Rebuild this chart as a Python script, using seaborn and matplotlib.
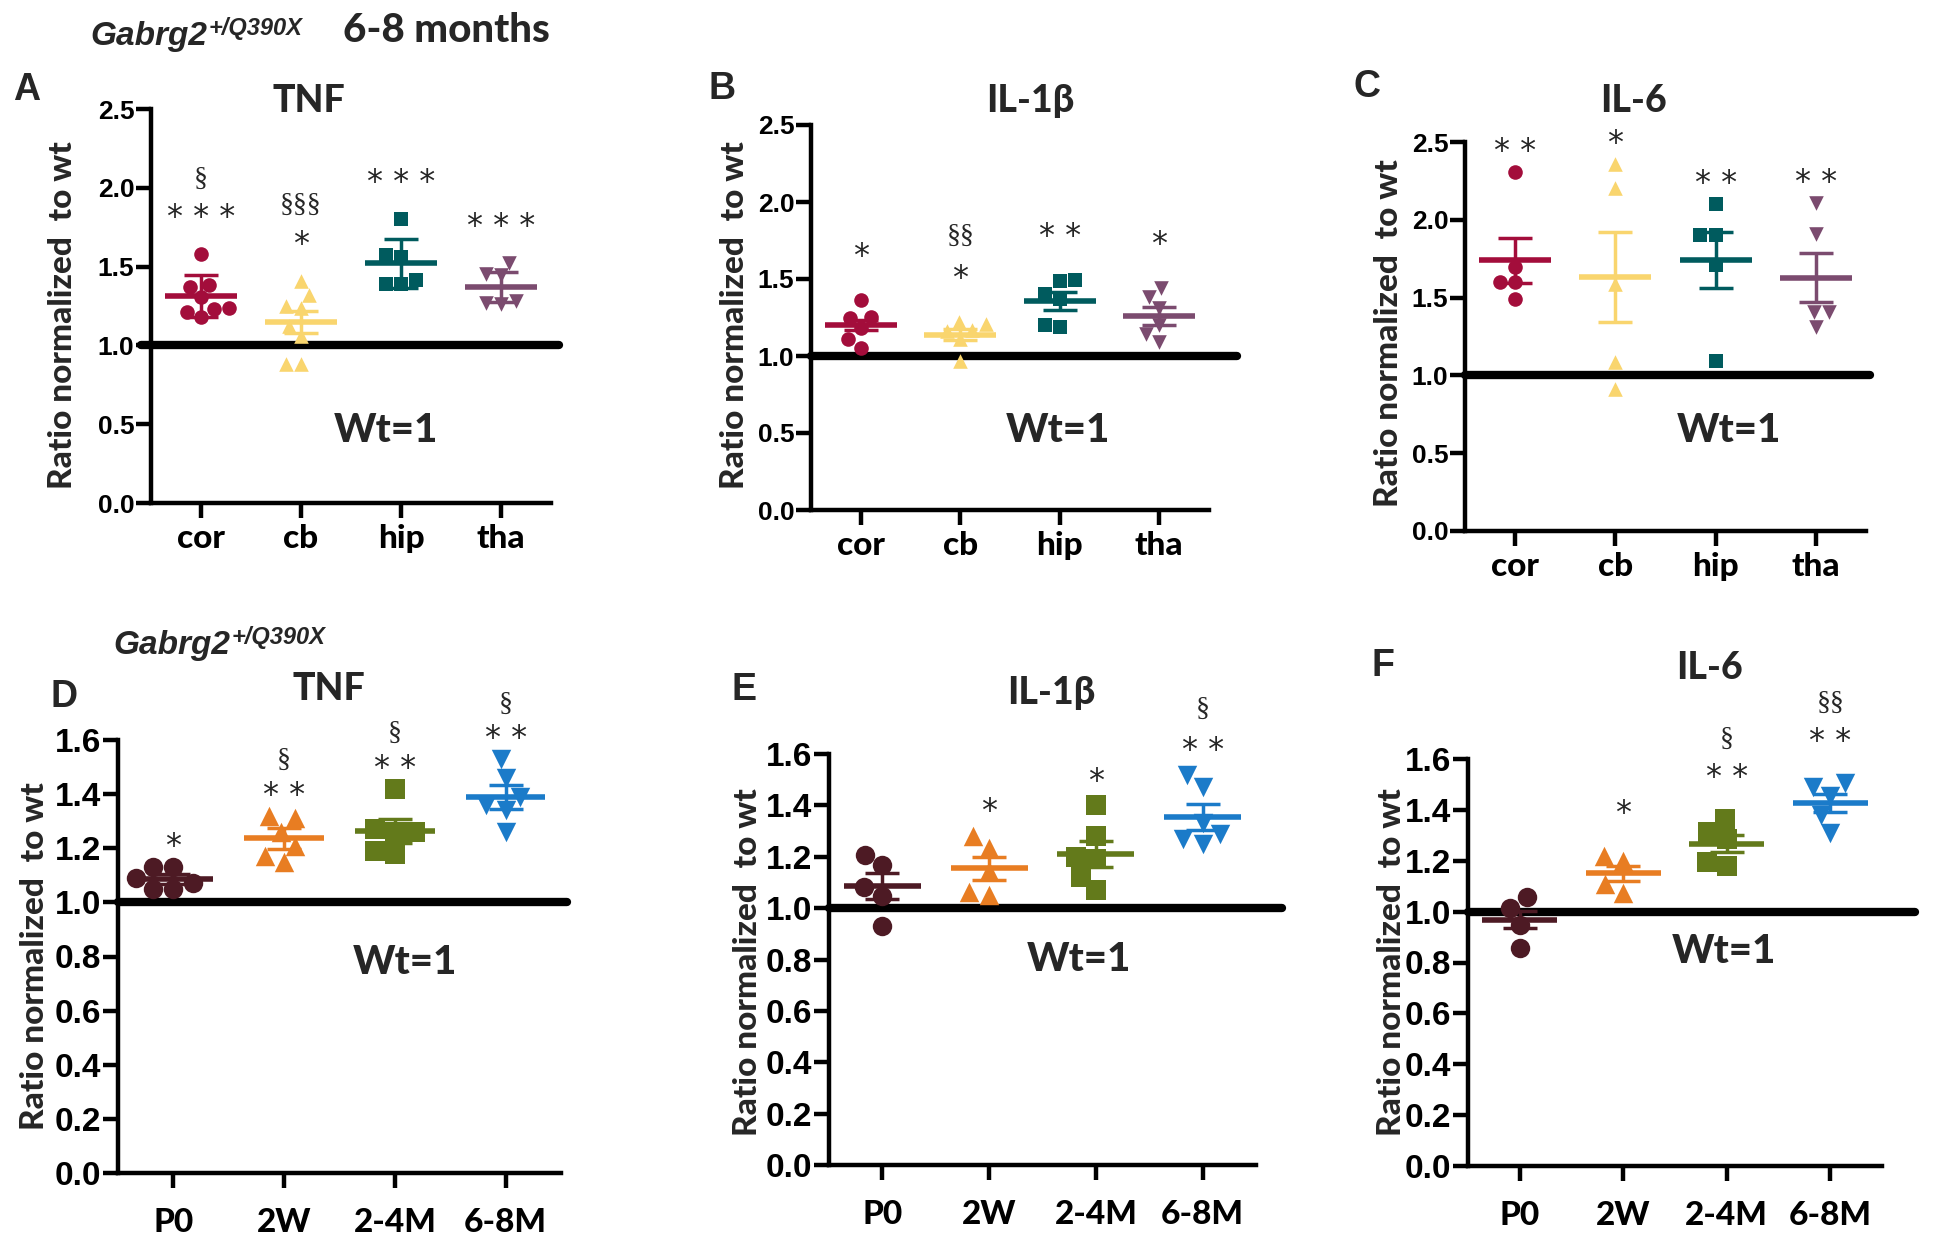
import matplotlib
matplotlib.use("Agg")
import matplotlib.pyplot as plt
from matplotlib.ticker import FormatStrFormatter
import numpy as np
import seaborn as sns

# categories
regions = ["cor", "cb", "hip", "tha"]
ages = ["P0", "2W", "2-4M", "6-8M"]

# 6-8 months, per brain region
tnf_region = [[1.577, 1.371, 1.385, 1.306, 1.229, 1.24, 1.181, 1.212],
              [1.41, 1.32, 1.24, 1.25, 1.12, 1.06, 0.885, 0.885],
              [1.80, 1.573, 1.562, 1.417, 1.39, 1.39],
              [1.525, 1.445, 1.45, 1.28, 1.26, 1.27]]
tnf_region_err = [0.135, 0.07, 0.155, 0.095]

il1b_region = [[1.362, 1.246, 1.252, 1.18, 1.11, 1.055],
               [1.21, 1.22, 1.16, 1.17, 1.11, 0.965],
               [1.493, 1.487, 1.40, 1.373, 1.186, 1.20],
               [1.44, 1.38, 1.31, 1.20, 1.14, 1.09]]
il1b_region_err = [0.035, 0.034, 0.06, 0.06]

il6_region = [[2.309, 1.696, 1.598, 1.598, 1.493],
              [2.359, 2.207, 1.587, 1.087, 0.913],
              [2.104, 1.902, 1.902, 1.707, 1.091],
              [2.108, 1.91, 1.406, 1.406, 1.313]]
il6_region_err = [0.145, 0.29, 0.18, 0.155]

# hippocampus over age
tnf_age = [[1.13, 1.13, 1.09, 1.07, 1.05, 1.05],
           [1.32, 1.31, 1.26, 1.21, 1.15, 1.17],
           [1.42, 1.26, 1.26, 1.27, 1.18, 1.19],
           [1.53, 1.46, 1.39, 1.36, 1.34, 1.26]]
tnf_age_err = [0.02, 0.04, 0.045, 0.045]

il1b_age = [[1.205, 1.168, 1.082, 1.049, 0.93],
            [1.28, 1.235, 1.146, 1.052, 1.064],
            [1.40, 1.28, 1.20, 1.19, 1.12, 1.07],
            [1.52, 1.47, 1.33, 1.29, 1.27, 1.25]]
il1b_age_err = [0.05, 0.045, 0.05, 0.05]

il6_age = [[1.057, 1.015, 0.947, 0.856],
           [1.22, 1.20, 1.075, 1.108],
           [1.363, 1.314, 1.287, 1.181, 1.194],
           [1.506, 1.491, 1.453, 1.378, 1.31]]
il6_age_err = [0.035, 0.03, 0.035, 0.035]

# significance labels
tnf_region_stars = ["* * *", "*", "* * *", "* * *"]
tnf_region_sect = ["§", "§§§", "", ""]
il1b_region_stars = ["*", "*", "* *", "*"]
il1b_region_sect = ["", "§§", "", ""]
il6_region_stars = ["* *", "*", "* *", "* *"]
il6_region_sect = ["", "", "", ""]
tnf_age_stars = ["*", "* *", "* *", "* *"]
tnf_age_sect = ["", "§", "§", "§"]
il1b_age_stars = ["", "*", "*", "* *"]
il1b_age_sect = ["", "", "", "§"]
il6_age_stars = ["", "*", "* *", "* *"]
il6_age_sect = ["", "", "§", "§§"]

region_colors = ["#A30D3B", "#F9D56E", "#005B5E", "#7B4B6F"]
age_colors = ["#4D1A24", "#E87D22", "#637A1B", "#1B7BC9"]
markers = ["o", "^", "s", "v"]

W, H = 1935, 1241
LABEL_FONT = ["Lato", "DejaVu Sans"]
NUM_FONT = ["Liberation Sans", "DejaVu Sans"]
HEAVY = "black"
STAR_FS = 23
SECT_FS = 20

sns.set_style("ticks")
plt.rcParams["font.family"] = LABEL_FONT

fig = plt.figure(figsize=(W / 100, H / 100), dpi=100)


def ftext(x, y, s, **kw):
    # place text by pixel position of the figure
    return fig.text(x / W, 1 - y / H, s, **kw)


def make_axes(left, top, right, bottom):
    return fig.add_axes([left / W, 1 - bottom / H, (right - left) / W, (bottom - top) / H])


def draw_panel(ax, cats, values, errs, colors, stars, sects, ymax, step,
               ms, star_pad, sect_gap, line_end, tick_size, xpad):
    for i, vals in enumerate(values):
        sns.swarmplot(x=[cats[i]] * len(vals), y=vals, order=cats, color=colors[i],
                      marker=markers[i], size=ms, linewidth=0, ax=ax, zorder=3)
        m = np.mean(vals)
        ax.plot([i - 0.36, i + 0.36], [m, m], color=colors[i], lw=4, zorder=4,
                solid_capstyle="butt")
        ax.errorbar(i, m, yerr=errs[i], fmt="none", ecolor=colors[i], elinewidth=2.5,
                    capsize=12, capthick=2.5, zorder=4)
        ys = max(vals) + star_pad
        # asterisk glyph sits high in the line, so shift down to centre it on ys
        if stars[i]:
            ax.annotate(stars[i], xy=(i, ys), xytext=(0, -0.55 * STAR_FS),
                        textcoords="offset points", ha="center", va="baseline",
                        fontsize=STAR_FS, family=["DejaVu Sans"], annotation_clip=False)
        if sects[i]:
            ax.annotate(sects[i], xy=(i, ys + sect_gap), xytext=(0, -0.3 * SECT_FS),
                        textcoords="offset points", ha="center", va="baseline",
                        fontsize=SECT_FS, family=["Liberation Serif", "DejaVu Serif"],
                        annotation_clip=False)
    # wild type reference
    ax.plot([line_end[0], line_end[1]], [1, 1], color="black", lw=6, clip_on=False, zorder=2)
    ax.set_xlim(-0.5, 3.5)
    ax.set_ylim(0, ymax)
    ax.set_yticks(np.arange(0, ymax + 1e-6, step))
    ax.yaxis.set_major_formatter(FormatStrFormatter("%.1f"))
    ax.set_xlabel("")
    ax.set_ylabel("")
    sns.despine(ax=ax)
    for sp in ["left", "bottom"]:
        ax.spines[sp].set_linewidth(3.2)
        ax.spines[sp].set_color("black")
    ax.tick_params(axis="both", direction="out", length=11, width=3.2, colors="black")
    ax.tick_params(axis="y", labelsize=tick_size, pad=1)
    ax.tick_params(axis="x", labelsize=24, pad=xpad)
    for lb in ax.get_yticklabels():
        lb.set_family(NUM_FONT)
        lb.set_fontweight("bold")
    for lb in ax.get_xticklabels():
        lb.set_family(LABEL_FONT)
        lb.set_fontweight(HEAVY)


axA = make_axes(151, 109, 551, 503)
axB = make_axes(811, 125, 1209, 510)
axC = make_axes(1465, 142, 1866, 531)
axD = make_axes(118, 740, 561, 1173)
axE = make_axes(829, 754, 1256, 1165)
axF = make_axes(1468, 759, 1882, 1166)

draw_panel(axA, regions, tnf_region, tnf_region_err, region_colors, tnf_region_stars,
           tnf_region_sect, 2.5, 0.5, 10.5, 0.29, 0.2, (-0.6, 3.58), 19, 4)
draw_panel(axB, regions, il1b_region, il1b_region_err, region_colors, il1b_region_stars,
           il1b_region_sect, 2.5, 0.5, 10.5, 0.34, 0.23, (-0.5, 3.78), 19, 4)
draw_panel(axC, regions, il6_region, il6_region_err, region_colors, il6_region_stars,
           il6_region_sect, 2.5, 0.5, 10.5, 0.19, 0.2, (-0.5, 3.54), 19, 4)
draw_panel(axD, ages, tnf_age, tnf_age_err, age_colors, tnf_age_stars,
           tnf_age_sect, 1.6, 0.2, 14, 0.11, 0.1, (-0.5, 3.55), 24, 14)
draw_panel(axE, ages, il1b_age, il1b_age_err, age_colors, il1b_age_stars,
           il1b_age_sect, 1.6, 0.2, 14, 0.13, 0.13, (-0.5, 3.74), 24, 14)
draw_panel(axF, ages, il6_age, il6_age_err, age_colors, il6_age_stars,
           il6_age_sect, 1.6, 0.2, 14, 0.2, 0.12, (-0.5, 3.82), 24, 14)

# genotype headers
for x0, y0 in [(90, 45), (113, 654)]:
    g = ftext(x0, y0, "Gabrg2", fontsize=24, fontweight="bold", style="italic",
              family=NUM_FONT, ha="left", va="baseline")
    axA.annotate("+/Q390X", xy=(1, 1), xycoords=g, xytext=(1, 3),
                 textcoords="offset points", ha="left", va="top", fontsize=17,
                 fontweight="bold", style="italic", family=NUM_FONT)
ftext(446, 42, "6-8 months", fontsize=29, fontweight=HEAVY, ha="center", va="baseline")

# panel letters, titles, Wt=1 notes and y labels
letters = [("A", 27, 100), ("B", 722, 99), ("C", 1367, 97),
           ("D", 64, 707), ("E", 744, 700), ("F", 1383, 676)]
for s, x, y in letters:
    ftext(x, y, s, fontsize=27, fontweight="bold", family=NUM_FONT, ha="center", va="baseline")

titles = [("TNF", 309, 112), ("IL-1β", 1030, 112), ("IL-6", 1633, 112),
          ("TNF", 329, 700), ("IL-1β", 1051, 704), ("IL-6", 1709, 679)]
for s, x, y in titles:
    ftext(x, y, s, fontsize=27, fontweight=HEAVY, ha="center", va="baseline")

for x, y in [(386, 442), (1058, 442), (1729, 442), (405, 974), (1079, 971), (1724, 963)]:
    ftext(x, y, "Wt=1", fontsize=29, fontweight=HEAVY, ha="center", va="baseline")

for x, y in [(62, 315), (734, 315), (1388, 333), (35, 956), (747, 962), (1391, 962)]:
    ftext(x, y, "Ratio normalized  to wt", fontsize=24, fontweight=HEAVY,
          rotation=90, ha="center", va="center")

fig.savefig("out.png", dpi=100)
